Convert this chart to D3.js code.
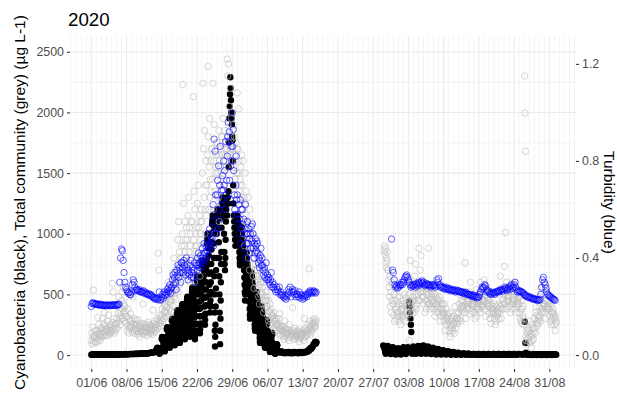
<!DOCTYPE html>
<html><head><meta charset="utf-8">
<script src="https://cdn.jsdelivr.net/npm/d3@7"></script>
<style>
body{margin:0;background:#fff}
svg text{font-family:"Liberation Sans",Arial,Helvetica,sans-serif}
</style>
</head><body>
<svg id="c" width="617" height="397"></svg>
<script>
// ---------------- DATA ----------------
const chartTitle = "2020";
const leftTitle = "Cyanobacteria (black), Total community (grey) (µg L-1)";
const rightTitle = "Turbidity (blue)";
const xTickLabels = ["01/06","08/06","15/06","22/06","29/06","06/07","13/07","20/07","27/07","03/08","10/08","17/08","24/08","31/08"];
const leftTicks = [0,500,1000,1500,2000,2500];
const leftMinor = [250,750,1250,1750,2250];
const rightTicks = [0,0.4,0.8,1.2];
const turbScale = 2000; // turbidity drawn on the µg axis × 2000

// one string per day, values spread evenly across the day; "-" = no data
const cyanoJunStart = "2020-06-01";
const cyanoJun = [
"3 5 4 2 4 3 5 4","4 3 5 4 2 4 6 3","5 4 3 4 5 4 6 5","4 5 6 4 5 5 7 4","5 6 4 5 6 5 7 6","6 5 7 6 5 6 8 6","7 6 5 7 8 6 9 7",
"7 8 6 7 8 9 10 8","8 9 10 8 9 10 12 9","10 11 9 12 10 11 13 12","12 11 13 12 14 13 16 15","14 15 13 16 18 17 20 19","20 18 22 25 24 28 30 26",
"50 55 60 52 58 50 40 28 15 10 20 32 45 52 56 60",
"130 140 150 135 145 130 148 125 110 100 85 70 55 40 30 40 50 65 80 95 110 130 140 150",
"210 220 230 215 225 210 228 200 180 160 140 120 100 80 60 75 90 110 130 150 170 200 215 230",
"280 290 300 285 295 280 298 270 245 220 190 160 135 110 80 100 120 150 180 205 230 270 290 300",
"340 355 370 350 360 345 365 330 300 270 230 200 170 140 100 120 150 190 220 260 290 330 350 370",
"400 410 420 405 415 400 418 390 350 320 280 250 210 170 130 150 180 220 260 300 340 380 400 420",
"450 465 480 460 470 455 475 440 400 370 320 280 240 200 150 180 210 260 300 350 390 440 460 480",
"520 540 560 530 550 525 555 500 460 420 360 310 250 190 130 160 200 260 320 380 430 500 530 560",
"610 630 650 620 640 615 645 590 540 500 440 380 320 250 180 210 260 320 390 450 500 580 620 650",
"730 760 780 740 770 735 775 700 650 600 540 470 400 330 250 290 340 410 480 540 600 700 740 780",
"920 960 1000 940 980 930 990 880 820 750 670 580 500 420 350 400 450 520 600 680 750 870 930 1000",
"1080 1110 1150 1090 1130 1070 1140 1020 920 800 650 500 350 200 70 150 250 400 550 700 800 1000 1080 1150",
"1130 1170 1200 1140 1180 1120 1190 1050 930 800 650 500 350 200 90 200 300 450 600 750 850 1050 1130 1200",
"1200 1250 1300 1220 1280 1150 1000 850 750 700 800 950 1100 1200 1250 1300",
"1150 1250 1300 1250 1350 1550 1750 1950 2050 2150 2290 2200 2100 2000 1950 1900",
"1800 1770 1600 1400 1250 1150 1100 1050 1000 950 900 1000 1100 1050 1000 950",
"1150 1120 1100 1080 1050 1020 980 940 900 850 800 760 740 780 840 900 960 1000 1040 1060 1000 950",
"950 930 900 880 860 830 800 760 700 640 580 520 450 500 560 620 680 740 800 840 800 760",
"750 730 710 690 670 640 600 550 500 440 380 330 300 340 400 460 520 580 640 680 650 620",
"600 580 560 540 520 490 450 400 350 300 250 220 200 230 280 330 380 430 480 520 500 470",
"450 440 420 400 380 350 320 280 230 180 140 110 100 120 160 210 260 310 360 400 380 350",
"320 310 300 285 270 250 220 190 150 110 80 65 60 75 100 140 180 220 260 290 280 260",
"200 195 185 175 165 150 130 105 80 55 35 28 25 35 50 75 100 130 160 185 180 170",
"100 95 90 85 80 75 65 52 40 28 18 12 10 15 25 38 50 65 80 90 85 80",
"35 30 28 25 22 20 32 26","20 18 22 15 18 20 24 16","18 22 25 20 15 18 22 19","15 20 25 18 22 16 20 24",
"20 15 18 22 25 20 17 23","18 22 26 20 24 28 25 30","30 40 35 50 45 60 55 65","70 85 90 100 110 95 105 -"
];
const cyanoAugStart = "2020-07-29";
const cyanoAug = [
"80 70 50 25 10 30 60 75","70 60 45 20 8 25 50 65","60 50 35 15 5 20 45 55","55 50 35 15 5 20 45 55","65 60 40 20 8 25 55 65",
"60 55 440 400 350 300 250 190 20 10 30 55","70 65 45 25 10 30 60 70","75 70 50 25 10 35 65 75","80 70 50 25 10 30 60 70","65 60 40 20 8 25 50 60",
"55 50 35 15 5 20 45 50","45 40 30 12 5 15 35 40","35 30 22 10 4 12 28 32","28 25 18 8 3 10 22 25","22 20 14 6 3 8 18 20",
"15 12 8 4 3 6 10 14","14 12 8 4 3 6 10 13","10 8 5 3 2 4 7 9","10 8 6 3 2 4 7 9","9 8 5 3 2 4 7 10","10 8 5 3 2 5 7 9","9 8 6 3 2 4 7 10",
"10 8 5 3 2 4 8 9","9 8 5 3 2 4 7 10","10 8 6 3 2 4 7 9","9 7 5 3 2 4 7 10","10 8 5 3 2 4 7 9","9 8 - - - 3 6 9","8 275 100 20 3 4 6 8",
"8 6 4 2 1 3 5 7","7 6 4 2 1 3 5 8","8 6 4 2 1 3 6 7","7 5 4 2 1 3 5 8","8 6 4 2 1 3 6 7","7 6 4 3 - - - -"
];
const totalJunStart = "2020-06-01";
const totalJun = [
"120 180 90 230 150 536 110 160 140 200 100 170","140 200 110 310 170 130 250 190 160 120 220 150",
"180 220 150 300 200 260 170 350 190 240 160 210","200 160 280 220 190 330 240 170 210 180 250 200",
"230 190 590 270 520 210 300 180 240 200 260 220","260 300 220 420 350 480 280 390 320 250 360 300",
"450 520 380 300 560 420 340 280 400 360 480 320","260 320 200 380 240 180 300 220 280 230 340 250",
"230 280 190 480 260 210 300 180 250 220 290 200","200 250 170 290 220 180 240 150 230 190 260 210",
"210 240 180 420 200 260 170 230 220 190 250 200","190 230 160 270 210 250 180 220 200 240 180 210",
"200 240 170 370 220 260 190 280 230 210 250 190","250 300 220 840 280 700 330 260 270 240 310 290",
"330 380 280 450 520 300 410 350 360 420 320 390","400 350 480 600 330 520 440 380 420 460 360 500",
"450 520 680 400 600 800 480 550 520 580 460 650","600 750 950 520 1100 680 850 580 700 800 650 900",
"800 1000 2230 700 1250 900 650 1100 850 950 750 1050","750 950 1150 650 1300 850 1050 600 900 1000 800 1100",
"800 1100 700 2130 950 1350 600 1200 900 1000 850 1050","900 1250 700 1400 1050 800 1150 650 1000 1100 950 1200",
"1100 1500 2240 1700 900 1300 1850 1000 1200 1400 1600 1150","1400 1650 2380 1800 1200 1550 1950 1300 1450 1600 1350 1700",
"1700 1450 2240 1200 1600 1900 1000 1350 1500 1650 1550 1750","1750 1500 1650 1300 1850 1100 1600 1400 1550 1700 1450 1800",
"1800 1650 1950 1500 1700 1400 1850 1600 1650 1750 1550 1700","2440 2300 1900 2400 1750 2050 1650 2200 1800 1700 1950 1600",
"2000 1850 1700 1900 1550 1800 1650 1450 1600 1750 1500 1700","2160 1700 1500 2030 1350 1600 1250 1450 1400 1550 1300 1650",
"1400 1200 1600 1000 1300 900 1100 1500 1250 1150 1350 1050","1100 950 1300 800 1000 700 1200 850 1000 900 1100 950",
"900 750 650 1000 550 800 700 600 750 850 650 700","700 550 620 480 750 420 580 500 600 650 520 560",
"500 420 600 350 480 700 380 450 450 520 400 480","400 320 450 280 360 250 420 300 350 380 320 330",
"320 260 350 220 300 200 280 240 280 300 250 260","250 200 300 180 230 340 210 160 220 240 200 230",
"200 160 240 130 190 280 150 220 180 210 170 190","180 140 210 120 250 170 200 150 170 190 160 180",
"390 160 200 130 180 220 140 170 160 190 150 200","160 130 190 110 170 210 140 180 150 170 160 190",
"170 140 200 120 300 180 150 220 160 190 170 200","200 250 180 710 220 280 170 240 210 230 190 260",
"250 280 220 300 260 230 240 270 290 - - -"
];
const totalAugStart = "2020-07-29";
const totalAug = [
"- - 860 900 830 880 760 800 720 850 780 700","700 620 560 480 650 400 520 350 600 450 580 420",
"420 330 500 280 560 380 450 300 400 350 480 320","350 420 280 480 320 250 400 370 380 330 420 300",
"380 450 320 500 280 420 350 470 400 360 440 330","400 500 120 350 780 450 300 420 380 440 350 480",
"450 550 350 650 400 750 500 380 480 420 560 450","500 880 600 450 700 520 820 550 560 480 620 520",
"480 420 600 350 550 450 380 520 500 440 560 420","880 500 420 560 380 460 520 400 480 440 500 430",
"450 380 550 320 500 420 480 350 420 460 380 440","400 350 480 280 450 320 380 420 380 420 350 330",
"350 280 420 200 320 250 380 300 300 340 260 320","280 200 350 150 250 180 300 220 240 280 200 260",
"250 320 180 400 280 220 350 300 300 260 340 280","350 420 300 500 380 280 450 400 400 360 440 380",
"400 480 350 760 420 300 520 380 440 400 480 420","450 380 520 340 600 420 480 360 420 460 400 440",
"420 350 500 300 450 380 540 320 400 440 380 420","450 380 520 350 600 420 480 400 420 460 400 440",
"620 450 380 500 320 550 420 480 430 470 400 450","400 340 460 300 420 260 380 350 380 360 400 340",
"380 300 420 250 350 280 400 320 360 340 380 300","420 500 350 650 400 300 550 380 420 460 380 440",
"500 730 420 1010 550 380 600 450 480 520 440 500","480 400 560 350 520 420 590 380 440 480 420 460",
"450 520 380 600 420 350 500 400 440 460 420 480","420 350 480 300 380 280 450 260 380 320 400 300",
"250 2300 1995 1680 150 120 200 90 180 140 220 110","200 150 280 100 180 60 250 120 160 220 130 190",
"300 220 350 180 400 260 330 240 280 320 260 300","400 320 480 280 550 350 450 380 380 420 360 400",
"420 350 500 300 450 380 560 400 400 440 380 420","380 320 450 280 400 250 350 300 350 380 320 340",
"250 300 200 320 280 260 - - - - - -"
];
const turbJunStart = "2020-06-01";
const turbJun = [
".20 .212 .216 .213 .21 .209",".212 .208 .21 .207 .205 .21",".206 .204 .208 .205 .203 .206",
".204 .205 .207 .203 .205 .204",".205 .208 .206 .204 .207 .205",".206 .205 .208 .21 .30 .40",
".437 .43 .39 .34 .30 .28",".27 .262 .255 .258 .25 .248",".26 .29 .31 .30 .28 .265",
".27 .268 .265 .27 .26 .262",".262 .258 .265 .255 .26 .252",".255 .25 .248 .252 .245 .25",
".245 .24 .235 .238 .23 .235",".232 .228 .235 .26 .226 .23",".24 .25 .235 .26 .245 .255",
".25 .27 .26 .28 .265 .29 .255 .275",".28 .31 .33 .29 .32 .34 .30 .27",".35 .33 .37 .32 .36 .34 .30 .38",
".38 .36 .34 .39 .37 .35 .33 .40",".36 .34 .31 .35 .33 .37 .39 .32",".34 .36 .32 .35 .38 .33 .30 .37",
".35 .40 .37 .42 .38 .36 .38 .41 .36 .39",".40 .44 .38 .42 .46 .39 .42 .40 .45 .43",
".43 .47 .41 .50 .45 .52 .46 .44 .49 .47",".48 .55 .62 .45 .89 .58 .84 .66 .52 .50",
".66 .72 .52 .78 .60 .70 .86 .56 .62 .68",".64 .74 .68 .80 .70 .76 .60 .88 .66 .72",
".82 .90 .96 .88 .92 .72 .64 .78 .86 .80",".997 .86 .93 .76 .66 .60 .58 .70 .82 .64",
".66 .58 .54 .62 .50 .56 .64 .46 .60 .52",".60 .54 .48 .56 .44 .52 .62 .40 .50 .46",
".55 .50 .46 .52 .42 .48 .50 .44 .53 .47",".54 .50 .44 .40 .46 .42 .48 .45 .43 .47",
".46 .42 .38 .40 .36 .39 .41 .44 .37 .40",".37 .35 .33 .36 .32 .34 .38 .31",".33 .31 .32 .30 .29 .31 .34 .28",
".30 .28 .29 .27 .26 .28",".27 .26 .28 .25 .26 .245",".25 .24 .235 .245 .23 .24",".25 .27 .26 .28 .24 .26",
".27 .26 .25 .265 .24 .25",".25 .24 .26 .235 .25 .245",".23 .24 .235 .245 .25 .24",".25 .26 .255 .265 .26 .255",
".26 .265 .26 .255 .26 -"
];
const turbAugStart = "2020-07-30";
const turbAug = [
"- - - - .478 .35",".34 .31 .29 .28 .285 .275",".28 .29 .285 .29 .30 .29",".30 .31 .32 .325 .33 .32",
".31 .30 .29 .28 .285 .29",".285 .29 .28 .295 .29 .285",".30 .295 .29 .30 .305 .295",".30 .29 .285 .29 .295 .29",
".29 .285 .29 .28 .285 .29",".285 .29 .28 .285 .31 .30",".315 .29 .28 .285 .28 .275",".28 .275 .27 .28 .275 .27",
".27 .275 .265 .27 .268 .265",".27 .265 .26 .268 .262 .265",".265 .26 .262 .258 .26 .255",".26 .255 .25 .258 .252 .25",
".25 .248 .245 .25 .242 .245",".24 .245 .238 .24 .235 .24",".24 .25 .26 .27 .28 .275",".28 .29 .285 .27 .26 .265",
".26 .255 .25 .26 .252 .258",".255 .25 .258 .262 .26 .265",".26 .265 .27 .268 .262 .27",".27 .28 .275 .265 .27 .275",
".28 .27 .285 .29 .275 .28",".29 .30 .28 .27 .26 .265",".26 .265 .262 .26 .258 .255",".25 .245 .248 .242 .24 .238",
".238 .24 .235 .232 .235 .23",".232 .23 .228 .23 .225 .228",".226 .23 .25 .28 .31 .32",".30 .29 .275 .26 .25 .245",
".245 .24 .238 .235 .232 .23",".228 .225 - - - -"
];

// ---------------- CHART ----------------
const DAY = 864e5;
const L = 70, R = 576, T = 36, B = 369;
const svg = d3.select("#c");

function expand(startStr, days) {
  const t0 = Date.parse(startStr + "T00:00:00Z");
  const out = [];
  days.forEach((s, i) => {
    const vals = s.trim().split(/\s+/);
    vals.forEach((v, k) => {
      if (v === "-") return;
      out.push({ t: new Date(t0 + (i + k / vals.length) * DAY), v: +v });
    });
  });
  return out;
}
const cyano = expand(cyanoJunStart, cyanoJun).concat(expand(cyanoAugStart, cyanoAug));
const total = expand(totalJunStart, totalJun).concat(expand(totalAugStart, totalAug));
const turb = expand(turbJunStart, turbJun).concat(expand(turbAugStart, turbAug));

const x = d3.scaleUtc()
  .domain([new Date(Date.UTC(2020, 4, 27, 18, 26)), new Date(Date.UTC(2020, 8, 5, 7, 12))])
  .range([L, R]);
const y = d3.scaleLinear().domain([-115, 2630]).range([B, T]);
const yR = d3.scaleLinear().domain([-115 / turbScale, 2630 / turbScale]).range([B, T]);

const tickDates = xTickLabels.map(s => { const [dd, mm] = s.split("/"); return new Date(Date.UTC(2020, +mm - 1, +dd)); });
const tickSet = new Set(tickDates.map(d => +d));
const minorDays = d3.utcDay.range(x.domain()[0], x.domain()[1]).filter(d => !tickSet.has(+d));

const grid = svg.append("g");
const gc = "#ebebeb";
grid.selectAll(".hm").data(leftMinor).join("line")
  .attr("x1", L).attr("x2", R).attr("y1", d => y(d)).attr("y2", d => y(d))
  .attr("stroke", gc).attr("stroke-width", 0.55);
grid.selectAll(".vm").data(minorDays).join("line")
  .attr("y1", T).attr("y2", B).attr("x1", d => x(d)).attr("x2", d => x(d))
  .attr("stroke", gc).attr("stroke-width", 0.55);
grid.selectAll(".hM").data(leftTicks).join("line")
  .attr("x1", L).attr("x2", R).attr("y1", d => y(d)).attr("y2", d => y(d))
  .attr("stroke", gc).attr("stroke-width", 1.1);
grid.selectAll(".vM").data(tickDates).join("line")
  .attr("y1", T).attr("y2", B).attr("x1", d => x(d)).attr("x2", d => x(d))
  .attr("stroke", gc).attr("stroke-width", 1.1);

const rad = 3.2;
svg.append("g").selectAll("circle").data(cyano).join("circle")
  .attr("cx", d => x(d.t)).attr("cy", d => y(d.v)).attr("r", rad)
  .attr("fill", "#000");
svg.append("g").selectAll("circle").data(total).join("circle")
  .attr("cx", d => x(d.t)).attr("cy", d => y(d.v)).attr("r", rad)
  .attr("fill", "none").attr("stroke", "#bebebe").attr("stroke-width", 0.8).attr("stroke-opacity", 0.8);
svg.append("g").selectAll("circle").data(turb).join("circle")
  .attr("cx", d => x(d.t)).attr("cy", d => yR(d.v)).attr("r", rad)
  .attr("fill", "none").attr("stroke", "#0000ff").attr("stroke-width", 0.8).attr("stroke-opacity", 0.75);

const fs = "12.4px", tc = "#4d4d4d";
function style(g) {
  g.select(".domain").remove();
  g.selectAll(".tick line").attr("stroke", "#333").attr("stroke-width", 1.07);
  g.selectAll(".tick text").attr("fill", tc).style("font-size", fs)
    .style("font-family", '"Liberation Sans",Arial,Helvetica,sans-serif');
}
svg.append("g").attr("transform", `translate(0,${B})`)
  .call(d3.axisBottom(x).tickValues(tickDates).tickFormat((d, i) => xTickLabels[i]).tickSize(3).tickPadding(6))
  .call(style);
svg.append("g").attr("transform", `translate(${L},0)`)
  .call(d3.axisLeft(y).tickValues(leftTicks).tickFormat(d3.format("d")).tickSize(3).tickPadding(3))
  .call(style);
svg.append("g").attr("transform", `translate(${R},0)`)
  .call(d3.axisRight(yR).tickValues(rightTicks).tickFormat(d3.format(".1f")).tickSize(3).tickPadding(3))
  .call(style);

svg.append("text").attr("x", 68).attr("y", 26).text(chartTitle)
  .style("font-size", "18.7px").attr("fill", "#000");
svg.append("text").attr("transform", `translate(25,${(T + B) / 2}) rotate(-90)`)
  .attr("text-anchor", "middle").text(leftTitle).style("font-size", "15.5px").attr("fill", "#000");
svg.append("text").attr("transform", `translate(604,${(T + B) / 2}) rotate(90)`)
  .attr("text-anchor", "middle").text(rightTitle).style("font-size", "15.5px").attr("fill", "#000");
</script>
</body></html>
